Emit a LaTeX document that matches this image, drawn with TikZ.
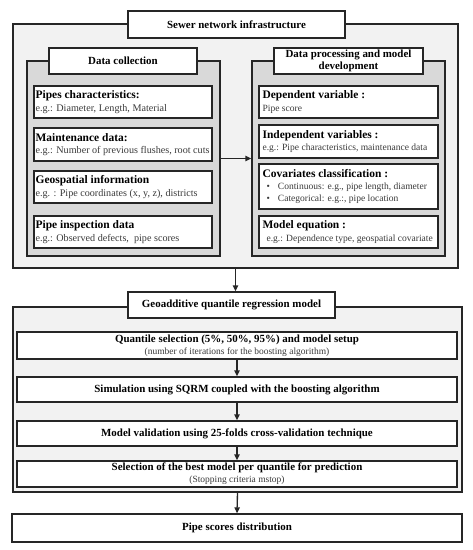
\documentclass[tikz,border=0pt]{standalone}
\usepackage{fontspec}
\setmainfont{Liberation Serif}
\usetikzlibrary{arrows.meta,fit}
\definecolor{bgouter}{HTML}{F2F2F2}
\definecolor{bgpanel}{HTML}{D9D9D9}
\definecolor{edge}{HTML}{262626}
\definecolor{subtxt}{HTML}{3A3A3A}
\newcommand{\sub}[1]{{\color{subtxt}\fontsize{7.6}{9.2}\selectfont\mdseries #1}}
\newcommand{\subr}[1]{{\color{subtxt}\fontsize{7.15}{9.2}\selectfont\mdseries #1}}
\newcommand{\subc}[1]{{\color{subtxt}\fontsize{7.1}{8.5}\selectfont\mdseries #1}}
\newcommand{\bul}{\hspace*{3pt}\makebox[8.5pt][l]{\textbullet}}
\begin{document}
\begin{tikzpicture}[x=0.75pt,y=-0.75pt,
  frame/.style={draw=edge,line width=1pt,inner sep=0pt,rectangle},
  outerbox/.style={frame,fill=bgouter},
  panel/.style={frame,fill=bgpanel},
  wbox/.style={frame,fill=white},
  hd/.style={font=\fontsize{8.2}{9}\selectfont\bfseries,text=black},
  bhd/.style={font=\fontsize{8.6}{9.2}\selectfont\bfseries,text=black},
  txt/.style={bhd,anchor=west,align=left,inner sep=1.5pt},
  ctxt/.style={hd,align=center,inner sep=0pt},
  arr/.style={draw=edge,line width=1pt,-{Triangle[length=4.5pt,width=4pt]}}
]
\useasboundingbox (0,0) rectangle (473,550);

% ---- first outer block
\node[outerbox, fit={(13,24) (458,268)}] (o1) {};
\node[wbox, fit={(128,11) (345,38)}] (t1) {};
\node[ctxt] (t1t) at (t1.center) {Sewer network infrastructure};

% left panel
\node[panel, fit={(27,61) (220,256)}] (lp) {};
\node[wbox, fit={(49,48) (197,74)}] (lpt) {};
\node[ctxt] (lptt) at (lpt.center) {Data collection};

\node[wbox, fit={(34,86) (212,118)}] (pc) {};
\node[txt] (pct) at (pc.west) {Pipes characteristics:\\ \sub{e.g.: Diameter, Length, Material}};
\node[wbox, fit={(34,128) (212,161)}] (md) {};
\node[txt] (mdt) at (md.west) {Maintenance data:\\ \sub{e.g.: Number of previous flushes, root cuts}};
\node[wbox, fit={(34,171) (212,203)}] (gi) {};
\node[txt] (git) at (gi.west) {Geospatial information\\ \sub{e.g. : Pipe coordinates (x, y, z), districts}};
\node[wbox, fit={(34,216) (212,248)}] (pi) {};
\node[txt] (pit) at (pi.west) {Pipe inspection data\\ \sub{e.g.: Observed defects,\ \ pipe scores}};

% right panel
\node[panel, fit={(252,61) (445,256)}] (rp) {};
\node[wbox, fit={(274,48) (423,74)}] (rpt) {};
\node[ctxt] (rptt) at (rpt.center) {Data processing and model\\development};

\node[wbox, fit={(259,86) (438,118)}] (dv) {};
\node[txt,xshift=1.5pt] (dvt) at (dv.west) {Dependent variable :\\ \subr{Pipe score}};
\node[wbox, fit={(259,125) (438,158)}] (iv) {};
\node[txt,xshift=1.5pt] (ivt) at (iv.west) {Independent variables :\\ \subr{e.g.: Pipe characteristics, maintenance data}};
\node[wbox, fit={(259,164) (438,209)}] (cc) {};
\node[txt,xshift=1.5pt] (cct) at (cc.west) {Covariates classification :\\ \subr{\bul Continuous: e.g., pipe length, diameter}\\ \subr{\bul Categorical: e.g.:, pipe location}};
\node[wbox, fit={(259,216) (438,248)}] (me) {};
\node[txt,xshift=1.5pt] (met) at (me.west) {Model equation :\\ \subr{\hspace*{3pt}e.g.: Dependence type, geospatial covariate}};

\draw[arr] (lp.east) -- (rp.west);

% ---- second outer block
\node[outerbox, fit={(13,307) (462,492)}] (o2) {};
\node[wbox, fit={(128,292) (335,318)}] (t2) {};
\node[ctxt] (t2t) at (t2.center) {Geoadditive quantile regression model};

\draw[arr] (o1.south) -- (o1.south |- t2.north);

\node[wbox, fit={(17,332) (457,359)}] (q) {};
\node[ctxt] (qt) at (q.center) {Quantile selection (5\%, 50\%, 95\%) and model setup\\ \subc{(number of iterations for the boosting algorithm)}};
\node[wbox, fit={(17,377) (457,402)}] (s) {};
\node[ctxt] (st) at (s.center) {Simulation using SQRM coupled with the boosting algorithm};
\node[wbox, fit={(17,421) (457,446)}] (mv) {};
\node[ctxt] (mvt) at (mv.center) {Model validation using 25-folds cross-validation technique};
\node[wbox, fit={(17,461) (457,487)}] (sel) {};
\node[ctxt] (selt) at (sel.center) {Selection of the best model per quantile for prediction\\ \subc{(Stopping criteria mstop)}};

\draw[arr] (q.south) -- (s.north);
\draw[arr] (s.south) -- (mv.north);
\draw[arr] (mv.south) -- (sel.north);

% ---- result
\node[wbox, fit={(12,514) (462,542)}] (ps) {};
\node[ctxt] (pst) at (ps.center) {Pipe scores distribution};
\draw[arr] (o2.south) -- (ps.north);
\end{tikzpicture}
\end{document}
